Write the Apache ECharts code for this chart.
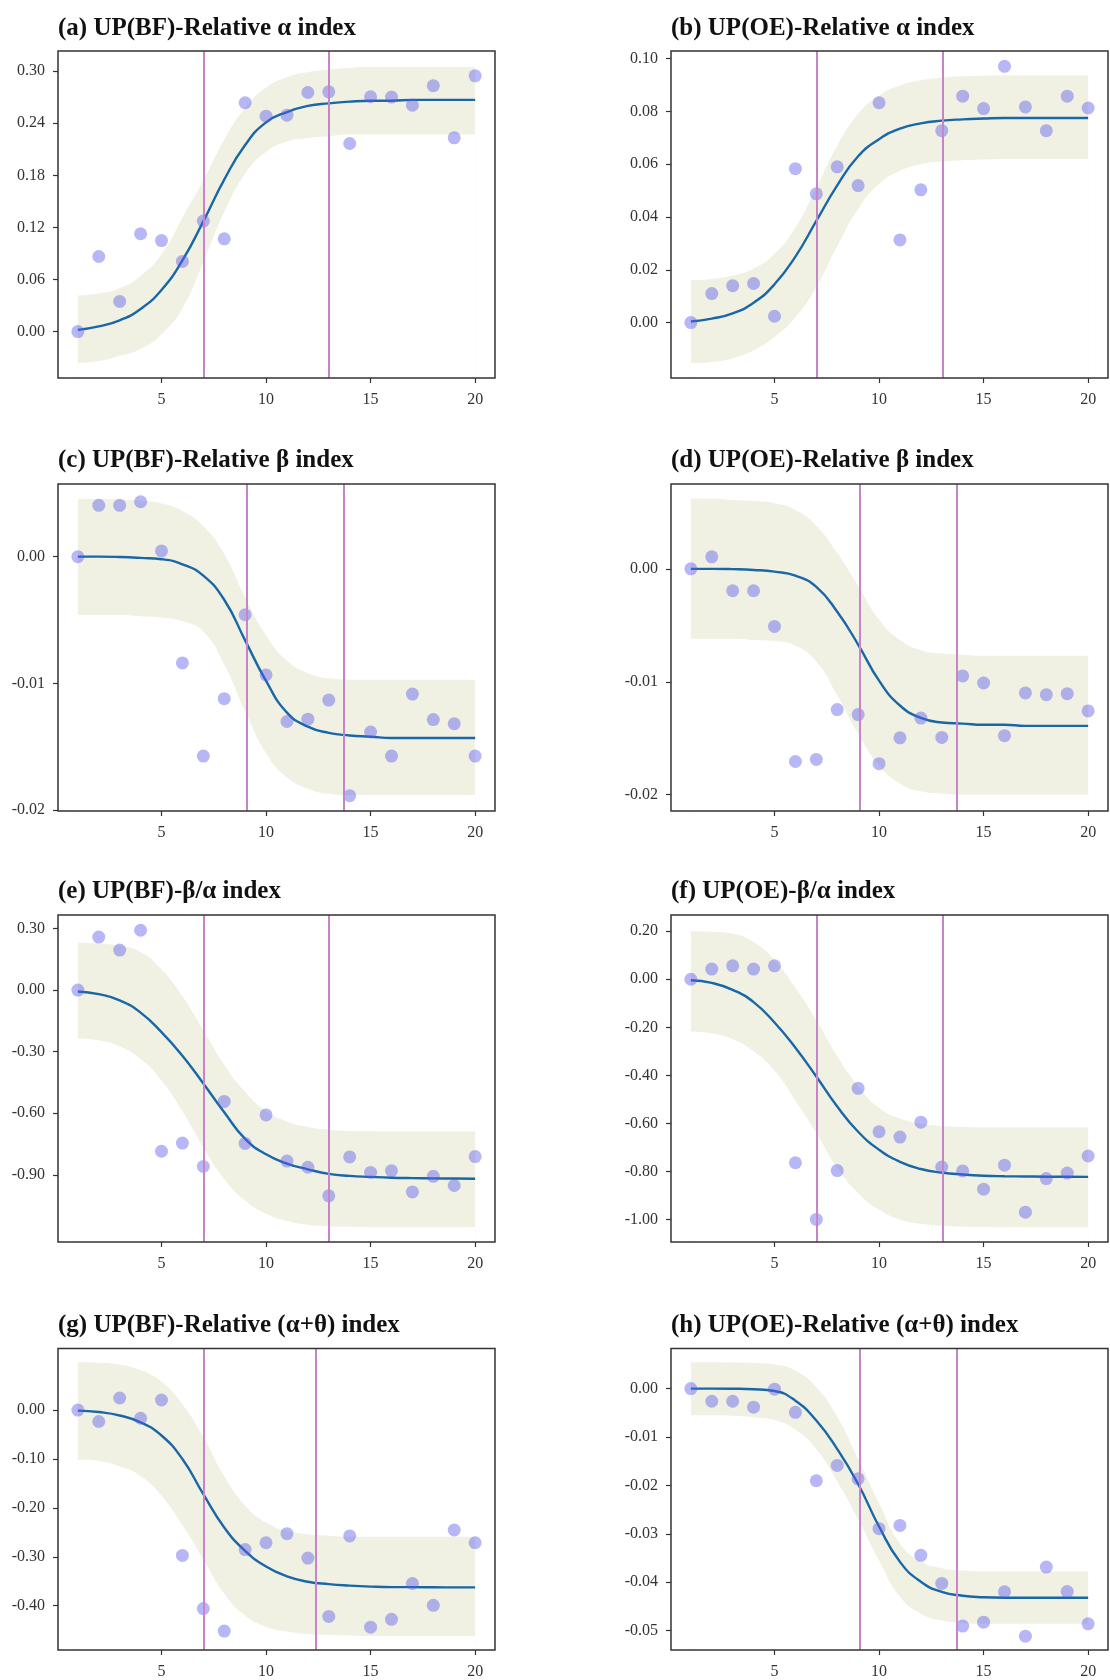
<!DOCTYPE html>
<html>
<head>
<meta charset="utf-8">
<script src="https://cdn.jsdelivr.net/npm/echarts@6/dist/echarts.min.js"></script>
<style>
  html, body { margin: 0; padding: 0; background: #fff; }
  #main { width: 1110px; height: 1680px; }
</style>
</head>
<body>
<div id="main"></div>
<script>
// steps on the x axis
const steps = [1, 2, 3, 4, 5, 6, 7, 8, 9, 10, 11, 12, 13, 14, 15, 16, 17, 18, 19, 20];
const xTicks = [5, 10, 15, 20];

const titles = [
  '(a) UP(BF)-Relative α index', '(b) UP(OE)-Relative α index',
  '(c) UP(BF)-Relative β index', '(d) UP(OE)-Relative β index',
  '(e) UP(BF)-β/α index', '(f) UP(OE)-β/α index',
  '(g) UP(BF)-Relative (α+θ) index', '(h) UP(OE)-Relative (α+θ) index'
];

// (a)
const aPts = [0, 0.0865, 0.0347, 0.1127, 0.1049, 0.0808, 0.1273, 0.1069, 0.2637, 0.2482, 0.2494, 0.2755, 0.2763, 0.2167, 0.2706, 0.2702, 0.2608, 0.2833, 0.2233, 0.2947];
const aFit = [0.002, 0.006, 0.013, 0.026, 0.048, 0.082, 0.127, 0.175, 0.215, 0.241, 0.253, 0.260, 0.263, 0.265, 0.266, 0.266, 0.267, 0.267, 0.267, 0.267];
const aUp = [0.0416, 0.044, 0.050, 0.064, 0.089, 0.131, 0.174, 0.221, 0.258, 0.281, 0.293, 0.299, 0.302, 0.304, 0.305, 0.305, 0.305, 0.305, 0.305, 0.305];
const aLo = [-0.036, -0.034, -0.028, -0.020, -0.003, 0.027, 0.080, 0.138, 0.182, 0.207, 0.219, 0.223, 0.225, 0.227, 0.227, 0.227, 0.227, 0.227, 0.227, 0.227];
const aTicks = [0, 0.06, 0.12, 0.18, 0.24, 0.30];
const aLines = [7, 13];

// (b)
const bPts = [0, 0.011, 0.014, 0.0148, 0.0024, 0.0583, 0.0488, 0.059, 0.0519, 0.0833, 0.0313, 0.0503, 0.0727, 0.0858, 0.0811, 0.0971, 0.0817, 0.0727, 0.0858, 0.0813];
const bFit = [0.0004, 0.0015, 0.0035, 0.0075, 0.0145, 0.025, 0.0385, 0.052, 0.063, 0.0695, 0.0735, 0.0755, 0.0765, 0.077, 0.0773, 0.0775, 0.0775, 0.0775, 0.0775, 0.0775];
const bUp = [0.016, 0.0165, 0.0178, 0.0205, 0.026, 0.036, 0.051, 0.067, 0.079, 0.086, 0.0898, 0.0918, 0.0928, 0.0933, 0.0935, 0.0936, 0.0936, 0.0936, 0.0936, 0.0936];
const bLo = [-0.0154, -0.0149, -0.0135, -0.0105, -0.0055, 0.002, 0.0135, 0.029, 0.043, 0.0525, 0.0575, 0.0600, 0.061, 0.0615, 0.0618, 0.062, 0.062, 0.062, 0.062, 0.062];
const bTicks = [0, 0.02, 0.04, 0.06, 0.08, 0.10];
const bLines = [7, 13.05];

// (c)
const cPts = [0, 0.00405, 0.00405, 0.00433, 0.00045, -0.00838, -0.01573, -0.0112, -0.00458, -0.00933, -0.0130, -0.01282, -0.01131, -0.01885, -0.01383, -0.01573, -0.01084, -0.01285, -0.01318, -0.01573];
const cFit = [0, 0, -0.00003, -0.0001, -0.0002, -0.0006, -0.0015, -0.0034, -0.0066, -0.0098, -0.0123, -0.0134, -0.0139, -0.0141, -0.0142, -0.0143, -0.0143, -0.0143, -0.0143, -0.0143];
const cUp = [0.00455, 0.00455, 0.0045, 0.0044, 0.0042, 0.0036, 0.0024, 0.0002, -0.0032, -0.0062, -0.0082, -0.0092, -0.0096, -0.0097, -0.0097, -0.0097, -0.0097, -0.0097, -0.0097, -0.0097];
const cLo = [-0.0046, -0.0046, -0.0046, -0.0047, -0.0048, -0.0051, -0.0059, -0.0085, -0.0122, -0.0155, -0.0174, -0.0183, -0.0187, -0.0188, -0.0188, -0.0188, -0.0188, -0.0188, -0.0188, -0.0188];
const cTicks = [-0.02, -0.01, 0];
const cLines = [9.07, 13.7];

// (d)
const dPts = [0, 0.00106, -0.00194, -0.00194, -0.0051, -0.01706, -0.01687, -0.01246, -0.0129, -0.01725, -0.01496, -0.01321, -0.01493, -0.00948, -0.01011, -0.01477, -0.01099, -0.01114, -0.01105, -0.01258];
const dFit = [0, 0, -0.00003, -0.0001, -0.00025, -0.0006, -0.0016, -0.0038, -0.0067, -0.0099, -0.0121, -0.0132, -0.0136, -0.0137, -0.0138, -0.0138, -0.0139, -0.0139, -0.0139, -0.0139];
const dUp = [0.0062, 0.0062, 0.0061, 0.006, 0.0058, 0.0052, 0.0038, 0.0014, -0.0015, -0.0045, -0.0063, -0.0072, -0.0075, -0.0076, -0.0077, -0.0077, -0.0077, -0.0077, -0.0077, -0.0077];
const dLo = [-0.0062, -0.0062, -0.0062, -0.0063, -0.0064, -0.0068, -0.0082, -0.0112, -0.0146, -0.0174, -0.0190, -0.0197, -0.0199, -0.0200, -0.0200, -0.0200, -0.0200, -0.0200, -0.0200, -0.0200];
const dTicks = [-0.02, -0.01, 0];
const dLines = [9.06, 13.7];

// (e)
const ePts = [0, 0.258, 0.1946, 0.291, -0.785, -0.7455, -0.859, -0.5424, -0.747, -0.608, -0.833, -0.863, -1.002, -0.8127, -0.888, -0.880, -0.983, -0.907, -0.952, -0.811];
const eFit = [-0.007, -0.02, -0.05, -0.11, -0.205, -0.32, -0.455, -0.595, -0.725, -0.80, -0.845, -0.873, -0.895, -0.905, -0.91, -0.914, -0.916, -0.917, -0.918, -0.919];
const eUp = [0.229, 0.226, 0.216, 0.185, 0.10, -0.03, -0.195, -0.365, -0.495, -0.59, -0.64, -0.667, -0.68, -0.686, -0.688, -0.689, -0.689, -0.689, -0.689, -0.689];
const eLo = [-0.236, -0.245, -0.275, -0.335, -0.44, -0.59, -0.765, -0.92, -1.025, -1.09, -1.125, -1.143, -1.15, -1.153, -1.155, -1.155, -1.155, -1.155, -1.155, -1.155];
const eTicks = [-0.9, -0.6, -0.3, 0, 0.3];
const eLines = [7, 13];

// (f)
const fPts = [0, 0.0426, 0.0558, 0.0426, 0.0558, -0.764, -1.0, -0.7965, -0.454, -0.635, -0.657, -0.595, -0.782, -0.798, -0.874, -0.774, -0.970, -0.830, -0.807, -0.736];
const fFit = [-0.004, -0.015, -0.044, -0.095, -0.18, -0.285, -0.405, -0.53, -0.635, -0.71, -0.76, -0.79, -0.805, -0.813, -0.818, -0.82, -0.821, -0.822, -0.822, -0.823];
const fUp = [0.20, 0.198, 0.19, 0.155, 0.08, -0.035, -0.17, -0.32, -0.445, -0.535, -0.58, -0.602, -0.611, -0.615, -0.617, -0.617, -0.617, -0.617, -0.617, -0.617];
const fLo = [-0.217, -0.225, -0.25, -0.30, -0.38, -0.505, -0.64, -0.785, -0.89, -0.96, -1.0, -1.018, -1.026, -1.03, -1.032, -1.033, -1.033, -1.033, -1.033, -1.033];
const fTicks = [-1.0, -0.8, -0.6, -0.4, -0.2, 0, 0.2];
const fLines = [7, 13.04];

// (g)
const gPts = [0, -0.0233, 0.0247, -0.0167, 0.0207, -0.2973, -0.406, -0.452, -0.2853, -0.2713, -0.2527, -0.3027, -0.422, -0.2573, -0.444, -0.428, -0.3547, -0.3993, -0.2453, -0.2713];
const gFit = [-0.001, -0.004, -0.011, -0.025, -0.052, -0.10, -0.172, -0.24, -0.288, -0.32, -0.34, -0.351, -0.356, -0.359, -0.361, -0.362, -0.362, -0.3625, -0.3627, -0.3627];
const gUp = [0.098, 0.097, 0.093, 0.082, 0.058, 0.012, -0.055, -0.135, -0.195, -0.23, -0.247, -0.254, -0.257, -0.259, -0.259, -0.259, -0.259, -0.259, -0.259, -0.259];
const gLo = [-0.101, -0.104, -0.115, -0.135, -0.175, -0.235, -0.305, -0.375, -0.42, -0.443, -0.453, -0.458, -0.46, -0.461, -0.462, -0.462, -0.462, -0.462, -0.462, -0.462];
const gTicks = [-0.4, -0.3, -0.2, -0.1, 0];
const gLines = [7, 12.4];

// (h)
const hPts = [0, -0.00262, -0.00262, -0.00384, -0.00013, -0.00491, -0.01904, -0.01588, -0.01864, -0.02894, -0.02826, -0.03445, -0.04024, -0.04906, -0.04825, -0.04199, -0.05114, -0.03688, -0.04193, -0.04859];
const hFit = [0, 0, -0.00003, -0.00013, -0.0005, -0.0025, -0.0066, -0.0125, -0.0197, -0.0285, -0.0358, -0.0399, -0.042, -0.0428, -0.0431, -0.0432, -0.0432, -0.0432, -0.0432, -0.0432];
const hUp = [0.00545, 0.00545, 0.0054, 0.0053, 0.005, 0.0037, 0.0003, -0.0058, -0.0145, -0.0237, -0.032, -0.0357, -0.0371, -0.0376, -0.0378, -0.0378, -0.0378, -0.0378, -0.0378, -0.0378];
const hLo = [-0.0055, -0.0055, -0.0056, -0.0059, -0.0065, -0.0085, -0.0125, -0.0192, -0.027, -0.0355, -0.043, -0.0465, -0.0479, -0.0484, -0.0486, -0.0486, -0.0486, -0.0486, -0.0486, -0.0486];
const hTicks = [-0.05, -0.04, -0.03, -0.02, -0.01, 0];
const hLines = [9.06, 13.72];

// panel setup: data + axis range
const panels = [
  { pts: aPts, fit: aFit, up: aUp, lo: aLo, ticks: aTicks, lines: aLines, min: -0.0535, max: 0.3233 },
  { pts: bPts, fit: bFit, up: bUp, lo: bLo, ticks: bTicks, lines: bLines, min: -0.021, max: 0.1029 },
  { pts: cPts, fit: cFit, up: cUp, lo: cLo, ticks: cTicks, lines: cLines, min: -0.02006, max: 0.00573 },
  { pts: dPts, fit: dFit, up: dUp, lo: dLo, ticks: dTicks, lines: dLines, min: -0.02144, max: 0.00751 },
  { pts: ePts, fit: eFit, up: eUp, lo: eLo, ticks: eTicks, lines: eLines, min: -1.227, max: 0.3654 },
  { pts: fPts, fit: fFit, up: fUp, lo: fLo, ticks: fTicks, lines: fLines, min: -1.094, max: 0.2676 },
  { pts: gPts, fit: gFit, up: gUp, lo: gLo, ticks: gTicks, lines: gLines, min: -0.4907, max: 0.126 },
  { pts: hPts, fit: hFit, up: hUp, lo: hLo, ticks: hTicks, lines: hLines, min: -0.054, max: 0.00828 }
];

const colLeft = [58, 671];
const rowTop = [51, 484, 915, 1348.5];
const titleTop = [16, 448, 879, 1313];
const gridW = 437;
const gridH = 327;

const FONT = '"Liberation Serif", "Times New Roman", serif';
const pair = (ys) => steps.map((x, i) => [x, ys[i]]);
const SMOOTH = 0.5;

const grids = [], xAxes = [], yAxes = [], series = [], title = [];

panels.forEach((p, i) => {
  const col = i % 2, row = Math.floor(i / 2);
  grids.push({
    left: colLeft[col], top: rowTop[row], width: gridW, height: gridH, z: 10,
    show: true, borderColor: '#333', borderWidth: 1.5, backgroundColor: 'transparent'
  });
  title.push({
    text: titles[i], left: colLeft[col], top: titleTop[row], padding: 0,
    textStyle: { fontFamily: FONT, fontWeight: 'bold', fontSize: 25, color: '#111' }
  });
  xAxes.push({
    type: 'value', gridIndex: i, min: 0.05, max: 20.95,
    axisLine: { show: false, onZero: false },
    axisTick: { show: true, length: 5, lineStyle: { color: '#333', width: 1.2 }, customValues: xTicks },
    axisLabel: { customValues: xTicks, fontFamily: FONT, fontSize: 16, color: '#333', margin: 14 },
    splitLine: { show: false }
  });
  yAxes.push({
    type: 'value', gridIndex: i, min: p.min, max: p.max,
    axisLine: { show: false, onZero: false },
    axisTick: { show: true, length: 5, lineStyle: { color: '#333', width: 1.2 }, customValues: p.ticks },
    axisLabel: {
      customValues: p.ticks, fontFamily: FONT, fontSize: 16, color: '#333', margin: 13,
      formatter: (v) => v.toFixed(2)
    },
    splitLine: { show: false }
  });

  // band: fill under the upper edge, then mask under the lower edge with white
  series.push({
    type: 'line', xAxisIndex: i, yAxisIndex: i, data: pair(p.up),
    smooth: SMOOTH, symbol: 'none', silent: true, z: 1,
    lineStyle: { opacity: 0 }, areaStyle: { color: '#f0f0e3', opacity: 1, origin: 'start' }
  });
  series.push({
    type: 'line', xAxisIndex: i, yAxisIndex: i, data: pair(p.lo),
    smooth: SMOOTH, symbol: 'none', silent: true, z: 1.5,
    lineStyle: { opacity: 0 }, areaStyle: { color: '#ffffff', opacity: 1, origin: 'start' }
  });
  // fitted curve + change points
  series.push({
    type: 'line', xAxisIndex: i, yAxisIndex: i, data: pair(p.fit),
    smooth: SMOOTH, symbol: 'none', lineStyle: { color: '#1a67a6', width: 2.4 }, z: 3,
    markLine: {
      silent: true, symbol: 'none', label: { show: false },
      lineStyle: { color: '#c685c9', width: 2, type: 'solid', opacity: 1 },
      data: p.lines.map(v => ({ xAxis: v }))
    }
  });
  // observations
  series.push({
    type: 'scatter', xAxisIndex: i, yAxisIndex: i, data: pair(p.pts),
    symbolSize: 13, itemStyle: { color: 'rgba(90, 90, 240, 0.55)' }, z: 4
  });
});

const chart = echarts.init(document.getElementById('main'));
chart.setOption({
  animation: false,
  backgroundColor: '#fff',
  title: title,
  grid: grids,
  xAxis: xAxes,
  yAxis: yAxes,
  series: series
});
</script>
</body>
</html>
